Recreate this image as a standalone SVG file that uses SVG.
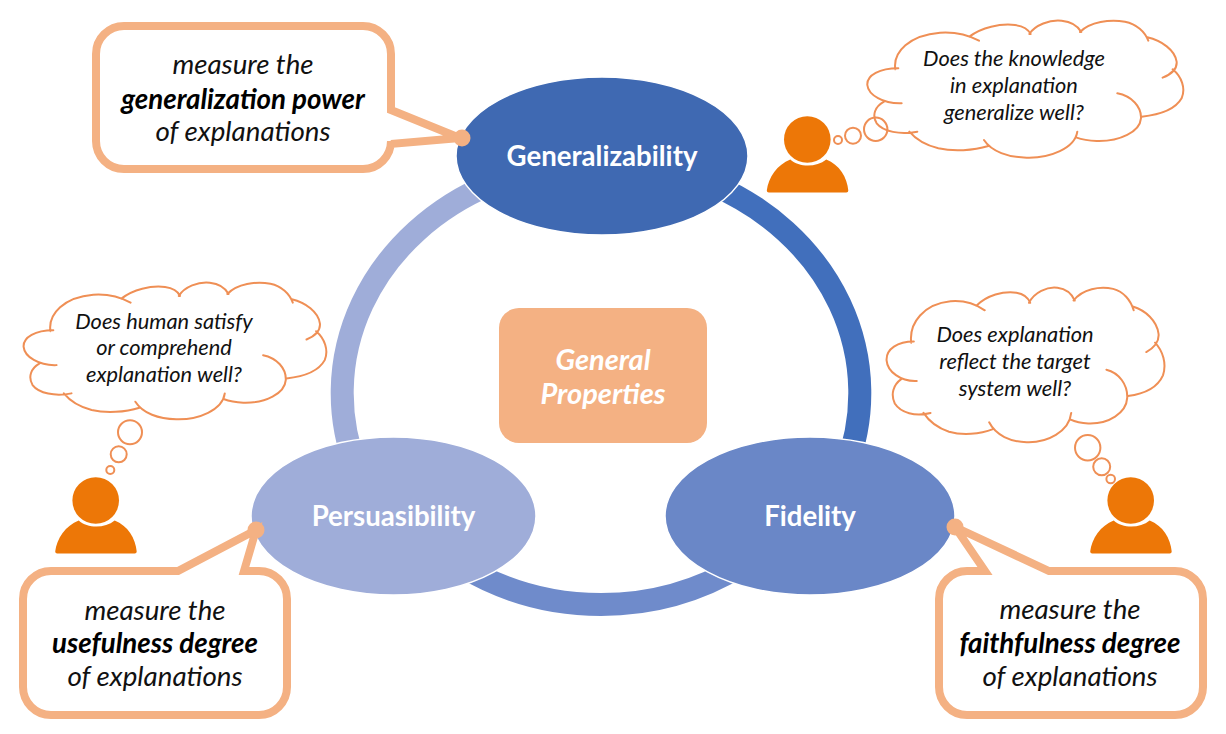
<svg xmlns="http://www.w3.org/2000/svg" xmlns:xlink="http://www.w3.org/1999/xlink" width="1226" height="734" viewBox="0 0 1226 734">
<style>
text{font-family:"Lato","Liberation Sans",sans-serif;text-anchor:middle}
.ell{stroke:#fff;stroke-width:1.5}
.name{font-size:27.600px;font-weight:700;fill:#fff}
.gp{font-size:29px;font-weight:700;font-style:italic;fill:#fff}
.arc{fill:none;stroke-width:23}
.call{fill:#fff;stroke:#F4B183;stroke-width:8;stroke-linejoin:miter;stroke-miterlimit:3}
.dot{fill:#F4B183}
.ct{font-size:27.700px;font-style:italic;fill:#111}
.cb{font-size:27.700px;font-style:italic;font-weight:700;fill:#000}
.th{font-size:21.800px;font-style:italic;fill:#111}
.cl{fill:none;stroke:#EF8F55;stroke-width:2;stroke-linecap:round;vector-effect:non-scaling-stroke}
.bub{fill:none;stroke:#EF8F55;stroke-width:2}
.per{fill:#ED7707}
</style>
<defs>
<path id="cloud" class="cl" d="M406,148C398,95 450,45 540,38C585,35 625,45 657,62M628,50C665,22 720,10 765,15C790,18 805,28 812,42M808,42C825,15 870,-2 905,2C935,5 955,20 964,36M960,36C990,5 1050,-3 1095,5C1130,12 1155,35 1165,62M1162,52C1205,62 1245,90 1250,125C1252,145 1235,162 1208,173M1238,148C1265,170 1278,205 1265,235C1245,270 1195,285 1145,290M1072,220C1115,228 1145,260 1143,295C1140,335 1080,365 1010,363C985,362 965,358 948,352M952,335C945,385 870,415 800,413C745,412 695,395 672,360M685,378C640,392 580,395 535,385C495,375 465,355 448,335M472,335C420,345 370,335 350,310C335,285 345,260 372,245M425,250C370,252 325,225 322,195C320,165 360,145 415,145"/>
<g id="person">
<circle cx="0" cy="0" r="23.3"/>
<path d="M-40.5,51C-39,38 -30,25 -17,20C-8,28 9,28 19,20C32,25 40,38 41,51Q41,53 39,53H-38.5Q-40.5,53 -40.5,51Z"/>
</g>
</defs>
<g id="connectors">
<path class="arc" stroke="#9FADD9" d="M491,184A259 231 0 0 0 357,470"/>
<path class="arc" stroke="#416FBC" d="M711,184A259 231 0 0 1 845,470"/>
<path class="arc" stroke="#6F8BCB" d="M460,565A271 271 0 0 0 742,565"/>
</g>
<g id="generalizability"><ellipse class="ell" cx="602" cy="156" rx="146" ry="79" fill="#3F69B2"/><text class="name" x="602" y="166">Generalizability</text></g>
<g id="persuasibility"><ellipse class="ell" cx="393.500" cy="516" rx="142.500" ry="79" fill="#9FADD9"/><text class="name" x="393.500" y="526">Persuasibility</text></g>
<g id="fidelity"><ellipse class="ell" cx="810" cy="516" rx="145" ry="79" fill="#6A87C7"/><text class="name" x="810" y="526">Fidelity</text></g>
<g id="general-properties"><rect x="499" y="308" width="208" height="135" rx="20" fill="#F4B183"/><text class="gp" x="603" y="370">General</text><text class="gp" x="603" y="404">Properties</text></g>
<g id="callout-generalization">
<path class="call" d="M124,26H363A28 28 0 0 1 391,54V110L460,138L391,144V141A28 28 0 0 1 363,169H124A28 28 0 0 1 96,141V54A28 28 0 0 1 124,26Z"/>
<circle class="dot" cx="462" cy="138" r="8.500"/>
<text class="ct" x="243" y="74">measure the</text><text class="cb" x="243" y="109">generalization power</text><text class="ct" x="243" y="141">of explanations</text>
</g>
<g id="callout-usefulness">
<path class="call" d="M51,571H178L256,530L244,571H259A28 28 0 0 1 287,599V687A28 28 0 0 1 259,715H51A28 28 0 0 1 23,687V599A28 28 0 0 1 51,571Z"/>
<circle class="dot" cx="256" cy="530" r="8.500"/>
<text class="ct" x="155" y="620">measure the</text><text class="cb" x="155" y="653">usefulness degree</text><text class="ct" x="155" y="686">of explanations</text>
</g>
<g id="callout-faithfulness">
<path class="call" d="M967,571H985L955,527L1049,571H1175A28 28 0 0 1 1203,599V687A28 28 0 0 1 1175,715H967A28 28 0 0 1 939,687V599A28 28 0 0 1 967,571Z"/>
<circle class="dot" cx="955" cy="527" r="8.500"/>
<text class="ct" x="1070" y="619">measure the</text><text class="cb" x="1070" y="653">faithfulness degree</text><text class="ct" x="1070" y="686">of explanations</text>
</g>
<g id="thought-generalize">
<use href="#cloud" transform="translate(760 20) scale(.3333)"/>
<circle class="bub" cx="875.700" cy="129.300" r="11.700"/><circle class="bub" cx="853" cy="135.700" r="8"/><circle class="bub" cx="838" cy="140" r="4"/>
<text class="th" x="1014" y="66">Does the knowledge</text><text class="th" x="1014" y="93">in explanation</text><text class="th" x="1014" y="120">generalize well?</text>
</g>
<g id="thought-human">
<use href="#cloud" transform="translate(-79.200 282) scale(.3193 .3325)"/>
<circle class="bub" cx="130" cy="432.300" r="12"/><circle class="bub" cx="118.700" cy="454.300" r="8"/><circle class="bub" cx="110.300" cy="470" r="4"/>
<text class="th" x="164" y="329">Does human satisfy</text><text class="th" x="164" y="355">or comprehend</text><text class="th" x="164" y="382">explanation well?</text>
</g>
<g id="thought-system">
<use href="#cloud" transform="translate(792.200 287) scale(.2931 .3759)"/>
<circle class="bub" cx="1087.700" cy="447.700" r="12.700"/><circle class="bub" cx="1101.700" cy="466.700" r="8.500"/><circle class="bub" cx="1110.700" cy="479" r="4.300"/>
<text class="th" x="1015" y="342">Does explanation</text><text class="th" x="1015" y="369">reflect the target</text><text class="th" x="1015" y="396">system well?</text>
</g>
<use id="person-top" class="per" href="#person" x="807.300" y="139.500"/>
<use id="person-left" class="per" href="#person" x="95.700" y="500.500"/>
<use id="person-right" class="per" href="#person" x="1130.700" y="500.500"/>
</svg>
